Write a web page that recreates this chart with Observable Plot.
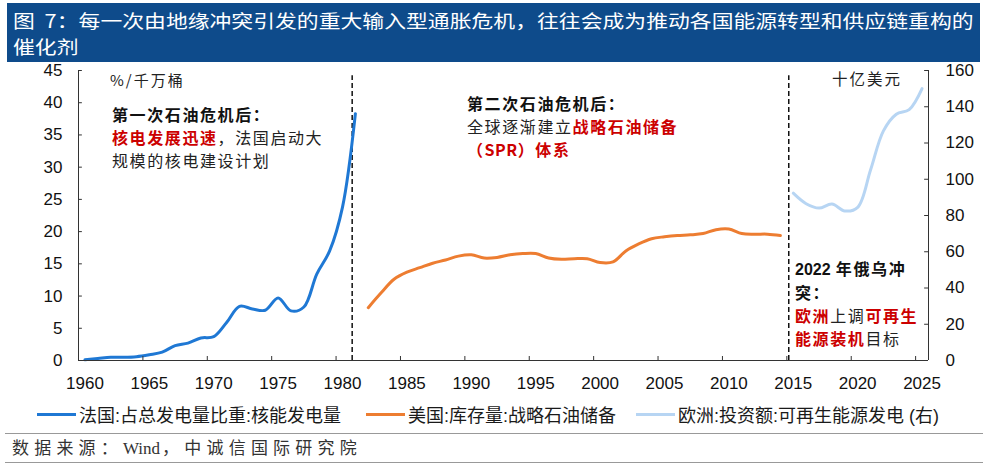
<!DOCTYPE html>
<html>
<head>
<meta charset="utf-8">
<script src="https://cdn.jsdelivr.net/npm/d3@7"></script>
<script src="https://cdn.jsdelivr.net/npm/@observablehq/plot@0.6"></script>
<style>
  body { margin: 0; background: #fff; }
  #wrap { position: relative; width: 988px; height: 469px; overflow: hidden; font-family: "Noto Sans CJK SC", sans-serif; }
  #chart { position: absolute; left: 0; top: 0; }
  #band { position: absolute; left: 7px; top: 3px; width: 973px; height: 59px; background: #0e4b8b; }
  #title { position: absolute; left: 13px; top: 6.75px; color: #fff; font-size: 18.5px; line-height: 26.5px;
           white-space: nowrap; transform-origin: 0 0; transform: scaleX(1.18); }
  .ann { position: absolute; font-size: 16px; line-height: 23px; letter-spacing: 1.6px; color: #222; white-space: nowrap; }
  .unit { position: absolute; font-size: 15px; line-height: 20px; letter-spacing: 2px; color: #222; white-space: nowrap; }
  .r { color: #cc0000; font-weight: 700; }
  .b { font-weight: 700; color: #111; }
  .num { font-family: "Liberation Sans", Arial, sans-serif; font-weight: 700; letter-spacing: 0; }
  .leg { position: absolute; top: 403px; height: 22px; display: flex; align-items: center; white-space: nowrap;
         font-family: "Liberation Sans", "Noto Sans CJK SC", sans-serif; font-size: 18px; color: #1a1a1a; }
  .sw { display: inline-block; width: 39px; height: 3px; margin-right: 3px; }
  .hr { position: absolute; left: 5px; width: 978px; height: 0; border-top: 1.5px solid #999; }
  #src { position: absolute; left: 12px; top: 438px; line-height: 22px; font-size: 17px; letter-spacing: 5.2px; color: #333;
         font-family: "Liberation Serif", "Noto Sans CJK SC", serif; white-space: nowrap; }
  #src .w { letter-spacing: 0; margin-right: 2px; }
</style>
</head>
<body>
<div id="wrap">
  <div id="chart"></div>
  <div id="band"></div>
  <div id="title">图&nbsp;&nbsp;7：每一次由地缘冲突引发的重大输入型通胀危机，往往会成为推动各国能源转型和供应链重构的<br>催化剂</div>

  <div class="unit" style="left:110px; top:70px;">%/千万桶</div>
  <div class="unit" style="left:832px; top:68px; font-size:15.5px;">十亿美元</div>

  <div class="ann" style="left:112px; top:103px;">
    <span class="b">第一次石油危机后：</span><br>
    <span class="r">核电发展迅速</span>，法国启动大<br>
    规模的核电建设计划
  </div>

  <div class="ann" style="left:467px; top:92px;">
    <span class="b">第二次石油危机后：</span><br>
    全球逐渐建立<span class="r">战略石油储备</span><br>
    <span class="r">（<span style="letter-spacing:0.5px">SPR</span>）体系</span>
  </div>

  <div class="ann" style="left:795px; top:257px;">
    <span class="b"><span class="num">2022</span> 年俄乌冲</span><br>
    <span class="b">突：</span><br>
    <span class="r">欧洲</span>上调<span class="r">可再生</span><br>
    <span class="r">能源装机</span>目标
  </div>

  <div class="leg" style="left:37px;"><span class="sw" style="background:#1f78d4"></span>法国:占总发电量比重:核能发电量</div>
  <div class="leg" style="left:366px;"><span class="sw" style="background:#ed7d31"></span>美国:库存量:战略石油储备</div>
  <div class="leg" style="left:636px;"><span class="sw" style="background:#b7d5f3"></span>欧洲:投资额:可再生能源发电 (右)</div>

  <div class="hr" style="top:433px;"></div>
  <div id="src">数据来源：<span class="w">Wind</span>，中诚信国际研究院</div>
  <div class="hr" style="top:462px;"></div>
</div>

<script>
// ---- data ----
const xTicks = [1960, 1965, 1970, 1975, 1980, 1985, 1990, 1995, 2000, 2005, 2010, 2015, 2020, 2025];
const leftTicks = [0, 5, 10, 15, 20, 25, 30, 35, 40, 45];
const rightTicks = [0, 20, 40, 60, 80, 100, 120, 140, 160];
const dividers = [1981.25, 2015.15];

const franceYears = [1960, 1961, 1962, 1963, 1964, 1965, 1966, 1967, 1968, 1969, 1970,
                     1971, 1972, 1973, 1974, 1975, 1976, 1977, 1978, 1979, 1980, 1981];
const franceValues = [0.1, 0.3, 0.5, 0.5, 0.6, 0.9, 1.3, 2.3, 2.7, 3.5, 3.7,
                      5.9, 8.4, 8.0, 7.8, 9.7, 7.7, 8.3, 13.4, 17.0, 23.8, 38.3];

const usYears = [1982, 1983, 1984, 1985, 1986, 1987, 1988, 1989, 1990, 1991, 1992,
                 1993, 1994, 1995, 1996, 1997, 1998, 1999, 2000, 2001, 2002, 2003,
                 2004, 2005, 2006, 2007, 2008, 2009, 2010, 2011, 2012, 2013, 2014];
const usValues = [8.2, 10.5, 12.6, 13.7, 14.4, 15.1, 15.6, 16.2, 16.4, 15.9, 16.0,
                  16.4, 16.6, 16.6, 15.9, 15.7, 15.8, 15.8, 15.2, 15.3, 17.0, 18.1,
                  18.9, 19.2, 19.4, 19.5, 19.7, 20.3, 20.4, 19.7, 19.6, 19.6, 19.4];

const euYears = [2015, 2016, 2017, 2018, 2019, 2020, 2021, 2022, 2023, 2024, 2025];
const euValues = [92.3, 86.5, 84.1, 86.3, 82.5, 84.5, 105.1, 126.7, 135.9, 138.4, 150.0];

// ---- build ----
const LEFT_MAX = 45, RIGHT_MAX = 160;
const toLeft = v => v * LEFT_MAX / RIGHT_MAX;
const mid = y => y + 0.5; // yearly values sit in the middle of each year
const france = franceYears.map((year, i) => ({year, value: franceValues[i]}));
const us = usYears.map((year, i) => ({year, value: usValues[i]}));
const eu = euYears.map((year, i) => ({year, value: euValues[i]}));
const axisColor = "#333";

const chart = Plot.plot({
  width: 988,
  height: 400,
  marginTop: 70,
  marginBottom: 40,
  marginLeft: 78,
  marginRight: 60,
  x: {domain: [1960, 2026], axis: null},
  y: {domain: [0, LEFT_MAX], axis: null},
  style: {fontFamily: '"Liberation Sans", Arial, sans-serif', fontSize: "17px", color: "#111", background: "transparent", overflow: "visible"},
  marks: [
    Plot.ruleX(dividers, {x: d => d, y1: 0, y2: 44.2, stroke: "#111", strokeWidth: 1.5, strokeDasharray: "5,3"}),
    Plot.line(eu, {x: d => mid(d.year), y: d => toLeft(d.value), curve: "catmull-rom", stroke: "#b7d5f3", strokeWidth: 3}),
    Plot.line(us, {x: d => mid(d.year), y: "value", curve: "catmull-rom", stroke: "#ed7d31", strokeWidth: 3}),
    Plot.line(france, {x: d => mid(d.year), y: "value", curve: "catmull-rom", stroke: "#1f78d4", strokeWidth: 3}),
    Plot.ruleY([0], {stroke: axisColor}),
    Plot.ruleX([1960, 2026], {y1: 0, y2: LEFT_MAX, stroke: axisColor}),
    Plot.ruleX(xTicks, {x: d => d, y1: 0, y2: 0.62, stroke: axisColor}),
    Plot.ruleY(leftTicks, {y: d => d, x1: 1960, x2: 1960.3, stroke: axisColor}),
    Plot.ruleY(rightTicks, {y: d => toLeft(d), x1: 2025.7, x2: 2026, stroke: axisColor}),
    Plot.text(xTicks, {x: d => mid(d), y: 0, dy: 23, text: d => String(d), lineAnchor: "middle"}),
    Plot.text(leftTicks, {x: 1960, y: d => d, dx: -16, textAnchor: "end", lineAnchor: "middle", text: d => String(d)}),
    Plot.text(rightTicks, {x: 2026, y: d => toLeft(d), dx: 17, textAnchor: "start", lineAnchor: "middle", text: d => String(d)})
  ]
});
document.getElementById("chart").appendChild(chart);
</script>
</body>
</html>
